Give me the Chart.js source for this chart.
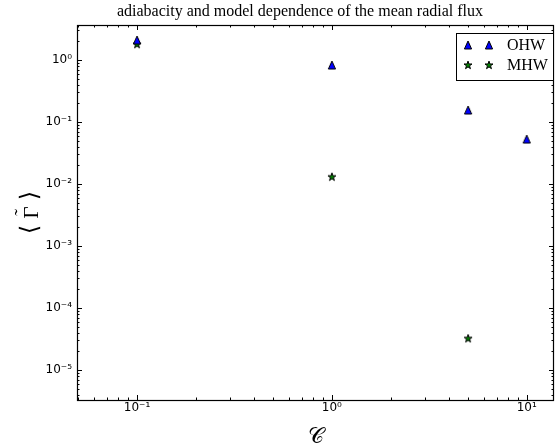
<!DOCTYPE html>
<html>
<head>
<meta charset="utf-8">
<script src="https://cdn.jsdelivr.net/npm/chart.js@4.4.1/dist/chart.umd.min.js"></script>
<style>
  html, body { margin: 0; padding: 0; background: #fff; }
  #wrap { width: 555px; height: 448px; }
</style>
</head>
<body>
<div id="wrap"><canvas id="c" width="555" height="448"></canvas></div>
<script>
// Adiabaticity parameter C for each run
const adiabaticityOHW = [0.1, 1, 5, 10];
const adiabaticityMHW = [0.1, 1, 5];
// Mean radial flux <Gamma~> for the two models
const fluxOHW = [2.1, 0.83, 0.156, 0.053];
const fluxMHW = [1.8, 0.0131, 3.24e-5];
const seriesNames = ['OHW', 'MHW'];
// Labelled decades on each axis
const xTickValues = [0.1, 1, 10];
const yTickValues = [1e-5, 1e-4, 1e-3, 1e-2, 1e-1, 1];
const xRange = [0.0492, 13.8];
const yRange = [3.28e-6, 3.67];
const chartTitle = 'adiabacity and model dependence of the mean radial flux';
const xTitle = '\u{1D49E}';
const yTitleParts = ['\u27E8', '\u0393', '\u02DC', '\u27E9'];

const SUP = {'-': '\u207B', '0': '\u2070', '1': '\u00B9', '2': '\u00B2', '3': '\u00B3',
             '4': '\u2074', '5': '\u2075', '6': '\u2076', '7': '\u2077', '8': '\u2078', '9': '\u2079'};
function powerLabel(v) {
  const e = String(Math.round(Math.log10(v)));
  return '10' + e.split('').map(c => SUP[c]).join('');
}

// Marker sprites: filled triangle and filled five-point star with a black edge
function makeTriangle() {
  const c = document.createElement('canvas');
  c.width = 10; c.height = 10;
  const g = c.getContext('2d');
  g.beginPath();
  g.moveTo(5, 1); g.lineTo(8.6, 9); g.lineTo(1.4, 9); g.closePath();
  g.fillStyle = '#0000ff'; g.fill();
  g.strokeStyle = '#000'; g.lineWidth = 1; g.stroke();
  return c;
}
function makeStar() {
  const c = document.createElement('canvas');
  c.width = 10; c.height = 10;
  const g = c.getContext('2d');
  const R = 4.2, r = R * 0.382;
  g.beginPath();
  for (let i = 0; i < 10; i++) {
    const rad = (i % 2 === 0) ? R : r;
    const a = -Math.PI / 2 + i * Math.PI / 5;
    const px = 5 + rad * Math.cos(a), py = 5.3 + rad * Math.sin(a);
    if (i === 0) g.moveTo(px, py); else g.lineTo(px, py);
  }
  g.closePath();
  g.fillStyle = '#008000'; g.fill();
  g.strokeStyle = '#000'; g.lineWidth = 1; g.stroke();
  return c;
}
const triangle = makeTriangle();
const star = makeStar();

function logTickValues(lo, hi) {
  const out = [];
  for (let e = Math.floor(Math.log10(lo)); e <= Math.ceil(Math.log10(hi)); e++) {
    for (let m = 1; m <= 9; m++) {
      const v = m * Math.pow(10, e);
      if (v > lo && v < hi) out.push({ v, major: m === 1 });
    }
  }
  return out;
}

// Frame with inward major/minor ticks on all four sides, plus title, y label and legend
const framePlugin = {
  id: 'frame',
  beforeDatasetsDraw(chart) {
    const { ctx, chartArea: a, scales: { x, y } } = chart;
    ctx.save();
    ctx.strokeStyle = '#000';
    ctx.lineWidth = 1;
    ctx.beginPath();
    for (const t of logTickValues(xRange[0], xRange[1])) {
      const px = Math.round(x.getPixelForValue(t.v)) + 0.5;
      const len = t.major ? 5 : 2.5;
      ctx.moveTo(px, a.bottom); ctx.lineTo(px, a.bottom - len);
      ctx.moveTo(px, a.top); ctx.lineTo(px, a.top + len);
    }
    for (const t of logTickValues(yRange[0], yRange[1])) {
      const py = Math.round(y.getPixelForValue(t.v)) + 0.5;
      const len = t.major ? 5 : 2.5;
      ctx.moveTo(a.left, py); ctx.lineTo(a.left + len, py);
      ctx.moveTo(a.right, py); ctx.lineTo(a.right - len, py);
    }
    ctx.stroke();
    ctx.lineWidth = 1.2;
    ctx.strokeRect(a.left + 0.5, a.top + 0.5, a.right - a.left - 1, a.bottom - a.top);
    ctx.restore();
  },
  afterDraw(chart) {
    const { ctx, chartArea: a } = chart;
    ctx.save();
    // title
    ctx.fillStyle = '#000';
    ctx.font = '16px "Liberation Serif"';
    ctx.textAlign = 'center';
    ctx.textBaseline = 'middle';
    ctx.fillText(chartTitle, 300, 12);

    // y-axis label, rotated, with the tilde set above the Gamma
    ctx.save();
    ctx.translate(30, (a.top + a.bottom) / 2);
    ctx.rotate(-Math.PI / 2);
    ctx.textAlign = 'center';
    ctx.textBaseline = 'middle';
    ctx.font = '24px "DejaVu Sans"';
    ctx.fillText(yTitleParts[0], -17, 1);
    ctx.fillText(yTitleParts[3], 17, 1);
    ctx.font = '21px "Liberation Serif"';
    ctx.fillText(yTitleParts[1], 0, 2);
    ctx.font = '20px "Liberation Serif"';
    ctx.fillText(yTitleParts[2], 0, -6);
    ctx.restore();

    // legend box
    ctx.fillStyle = '#fff';
    ctx.fillRect(456, 33, 98, 47);
    ctx.strokeStyle = '#000';
    ctx.lineWidth = 1;
    ctx.strokeRect(456.5, 33.5, 97, 47);
    const sprites = [triangle, star];
    const rows = [45, 65];
    ctx.font = '16px "Liberation Serif"';
    ctx.textAlign = 'left';
    ctx.fillStyle = '#000';
    seriesNames.forEach((name, i) => {
      const s = sprites[i];
      ctx.drawImage(s, 468 - s.width / 2, rows[i] - s.height / 2);
      ctx.drawImage(s, 489 - s.width / 2, rows[i] - s.height / 2);
      ctx.fillText(name, 507, rows[i] + 1);
    });
    ctx.restore();
  }
};

const toPoints = (xs, ys) => xs.map((v, i) => ({ x: v, y: ys[i] }));
// sprites carry their own size; a tiny radius keeps the layout from reserving marker overflow
const markerOpts = { pointRadius: 0.5, pointHoverRadius: 0.5, pointBorderWidth: 0, pointHoverBorderWidth: 0, clip: false };

new Chart(document.getElementById('c'), {
  type: 'scatter',
  data: {
    datasets: [
      { label: seriesNames[0], data: toPoints(adiabaticityOHW, fluxOHW), pointStyle: triangle, ...markerOpts },
      { label: seriesNames[1], data: toPoints(adiabaticityMHW, fluxMHW), pointStyle: star, ...markerOpts }
    ]
  },
  options: {
    responsive: false,
    animation: false,
    events: [],
    layout: { padding: { top: 25, right: 1, left: 0, bottom: 0 } },
    plugins: { legend: { display: false }, tooltip: { enabled: false }, title: { display: false } },
    scales: {
      x: {
        type: 'logarithmic', position: 'bottom', min: xRange[0], max: xRange[1],
        grid: { display: false, drawTicks: false }, border: { display: false },
        ticks: { autoSkip: false, maxRotation: 0, padding: 1, color: '#000',
                 font: { family: 'DejaVu Sans', size: 12 }, callback: v => powerLabel(v) },
        afterBuildTicks: s => { s.ticks = xTickValues.map(v => ({ value: v })); },
        afterFit: s => { s.height = 48; s.paddingLeft = 0; s.paddingRight = 0; },
        title: { display: true, text: xTitle, color: '#000', padding: 0,
                 font: { family: 'DejaVu Serif', size: 22, lineHeight: 1 } }
      },
      y: {
        type: 'logarithmic', position: 'left', min: yRange[0], max: yRange[1],
        grid: { display: false, drawTicks: false }, border: { display: false },
        ticks: { autoSkip: false, padding: 5, color: '#000',
                 font: { family: 'DejaVu Sans', size: 12 }, callback: v => powerLabel(v) },
        afterBuildTicks: s => { s.ticks = yTickValues.map(v => ({ value: v })); },
        afterFit: s => { s.width = 77; s.paddingTop = 0; s.paddingBottom = 0; },
        title: { display: false }
      }
    }
  },
  plugins: [framePlugin]
});
</script>
</body>
</html>
